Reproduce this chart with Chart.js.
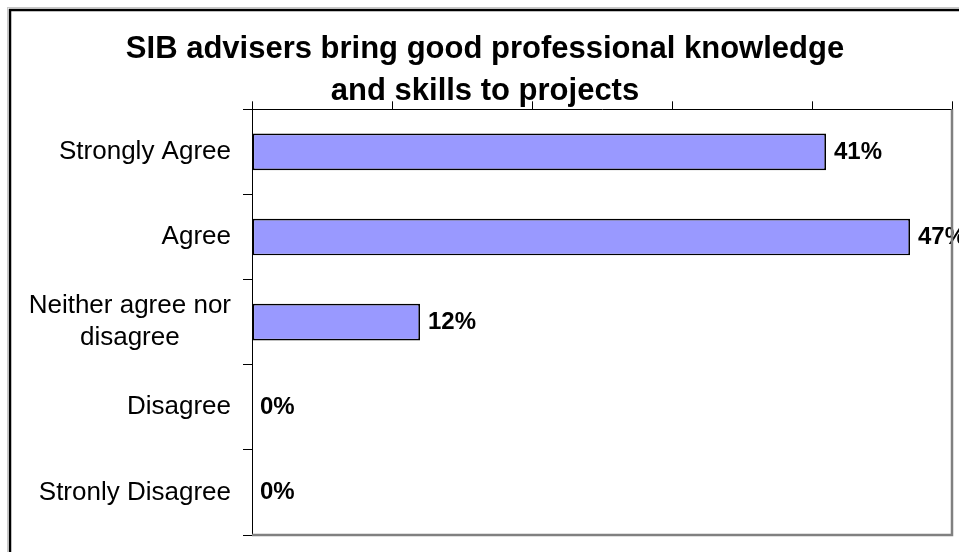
<!DOCTYPE html>
<html>
<head>
<meta charset="utf-8">
<script src="https://cdn.jsdelivr.net/npm/chart.js@4.4.1/dist/chart.umd.min.js"></script>
<style>
    html, body { margin: 0; padding: 0; background: #fff; }
    #wrap { width: 959px; height: 552px; position: relative; }
</style>
</head>
<body>
<div id="wrap"><canvas id="grafico"></canvas></div>
<script>
const categorias = ['Strongly Agree', 'Agree', ['Neither agree nor', 'disagree'], 'Disagree', 'Stronly Disagree'];
const valores = [41, 47, 12, 0, 0];
const ejeMin = 0;
const ejeMax = 50;
const ejePaso = 10;
const titulo = ['SIB advisers bring good professional knowledge', 'and skills to projects'];

const FUENTE = "'Liberation Sans', Arial, sans-serif";

// marco exterior, etiquetas de categoria, valores y borde gris del area
const extras = {
    id: 'extras',
    beforeDraw(chart) {
        const ctx = chart.ctx;
        ctx.save();
        ctx.strokeStyle = '#c8c8c8';
        ctx.lineWidth = 1;
        ctx.strokeRect(7.5, 7.5, 2000, 2000);
        ctx.strokeStyle = '#000';
        ctx.lineWidth = 2.5;
        ctx.strokeRect(10, 10, 2000, 2000);
        ctx.restore();
    },
    afterDatasetsDraw(chart) {
        const ctx = chart.ctx;
        const x = chart.scales.x;
        const y = chart.scales.y;
        ctx.save();
        // etiquetas de categoria
        ctx.fillStyle = '#000';
        ctx.font = `26px ${FUENTE}`;
        ctx.textBaseline = 'middle';
        ctx.textAlign = 'center';
        const derecha = chart.chartArea.left - 21;
        categorias.forEach((cat, i) => {
            const lineas = Array.isArray(cat) ? cat : [cat];
            const ancho = Math.max(...lineas.map(l => ctx.measureText(l).width));
            const cx = derecha - ancho / 2;
            const cy = y.getPixelForValue(i);
            const alto = 32;
            lineas.forEach((l, j) => {
                ctx.fillText(l, cx, cy + (j - (lineas.length - 1) / 2) * alto);
            });
        });
        // valores
        ctx.font = `bold 24px ${FUENTE}`;
        ctx.textAlign = 'left';
        valores.forEach((v, i) => {
            ctx.fillText(v + '%', x.getPixelForValue(v) + 8, y.getPixelForValue(i));
        });
        ctx.restore();
    },
    afterDraw(chart) {
        const a = chart.chartArea;
        const ctx = chart.ctx;
        ctx.save();
        ctx.strokeStyle = '#808080';
        ctx.lineWidth = 2.5;
        ctx.beginPath();
        ctx.moveTo(a.right, a.top);
        ctx.lineTo(a.right, a.bottom);
        ctx.lineTo(a.left, a.bottom);
        ctx.stroke();
        ctx.restore();
    }
};

function renderGrafico() {
    const canvas = document.getElementById('grafico');
    if (!canvas || typeof Chart === 'undefined') return;
    new Chart(canvas.getContext('2d'), {
        type: 'bar',
        data: {
            labels: categorias,
            datasets: [{
                data: valores,
                backgroundColor: '#9999ff',
                borderColor: '#000',
                borderWidth: ctx => (ctx.raw ? 1.7 : 0),
                borderSkipped: false,
                barPercentage: 0.43,
                categoryPercentage: 1
            }]
        },
        options: {
            indexAxis: 'y',
            responsive: true,
            maintainAspectRatio: false,
            animation: false,
            layout: { padding: { left: 18, right: 7, top: 0, bottom: 17 } },
            plugins: {
                legend: { display: false },
                tooltip: { enabled: false },
                title: {
                    display: true,
                    text: titulo,
                    color: '#000',
                    font: { family: FUENTE, size: 31, weight: 'bold', lineHeight: 1.36 },
                    padding: { top: 28, bottom: -3 }
                }
            },
            scales: {
                x: {
                    position: 'top',
                    min: ejeMin,
                    max: ejeMax,
                    ticks: { display: false, stepSize: ejePaso },
                    grid: { drawOnChartArea: false, tickLength: 8, color: '#000', lineWidth: 1 },
                    border: { display: true, color: '#000', width: 1 },
                    afterFit: s => { s.height = 0; }
                },
                y: {
                    ticks: { display: false },
                    grid: { drawOnChartArea: false, offset: true, tickLength: 9, color: '#000', lineWidth: 1 },
                    border: { display: true, color: '#000', width: 1 },
                    afterFit: s => { s.width = 234; }
                }
            }
        },
        plugins: [extras]
    });
}

document.addEventListener('DOMContentLoaded', renderGrafico);
</script>
</body>
</html>
